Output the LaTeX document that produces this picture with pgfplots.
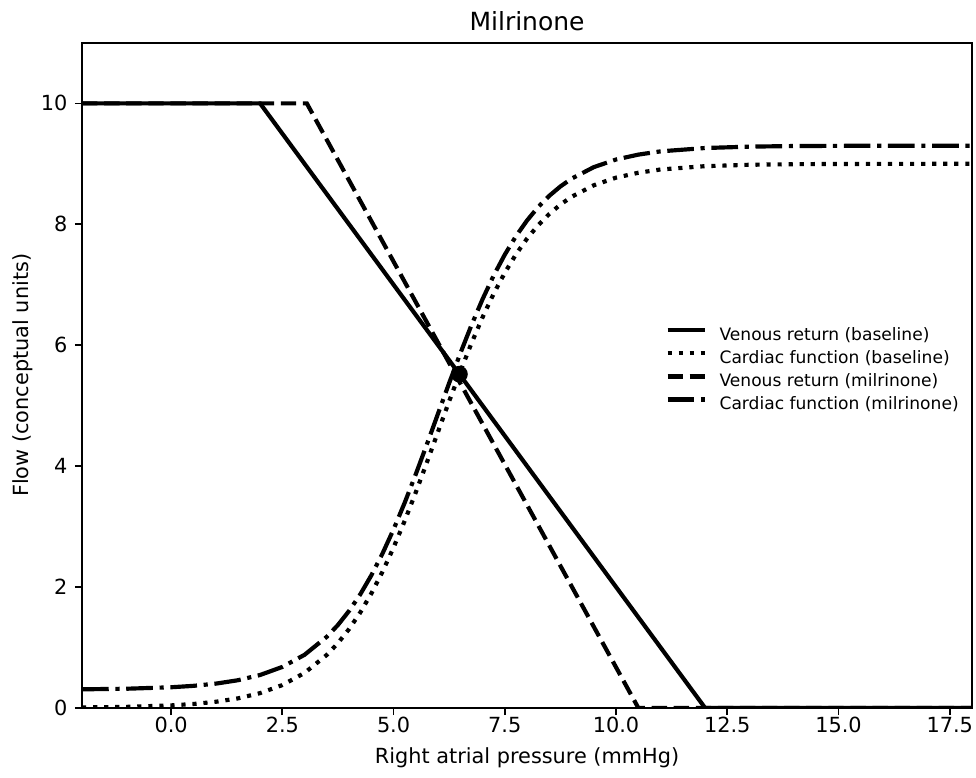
\documentclass[border=0pt]{standalone}
\usepackage{fontspec}
\setmainfont{DejaVu Sans}
\usepackage{pgfplots}
\pgfplotsset{compat=1.18}
\usepackage{pgfplotstable}

\pgfplotstableread{
x cfb cfm
-2 0.0068 0.3068
-1 0.0167 0.3167
0 0.0410 0.3410
0.5 0.0642 0.3642
1 0.1004 0.4004
1.5 0.1568 0.4568
2 0.2439 0.5439
2.5 0.3771 0.6771
3 0.5784 0.8784
3.5 0.8763 1.1763
3.75 1.0714 1.3714
4 1.304 1.604
4.25 1.576 1.876
4.5 1.892 2.192
4.75 2.251 2.551
5 2.653 2.953
5.25 3.094 3.394
5.5 3.567 3.867
5.75 4.062 4.362
6 4.569 4.869
6.25 5.074 5.374
6.5 5.564 5.864
6.75 6.030 6.330
7 6.461 6.761
7.25 6.852 7.152
7.5 7.198 7.498
7.75 7.502 7.802
8 7.763 8.063
8.25 7.985 8.285
8.5 8.171 8.471
8.75 8.326 8.626
9 8.454 8.754
9.5 8.645 8.945
10 8.771 9.071
10.5 8.852 9.152
11 8.906 9.206
12 8.961 9.261
13 8.984 9.284
14 8.994 9.294
15 8.997 9.297
16 8.999 9.299
18 9.000 9.300
}\cftable

\begin{document}
\begin{tikzpicture}
\useasboundingbox (-39.4pt,-33.6pt) rectangle (429.1pt,339.8pt);
\begin{axis}[
  at={(0,0)}, anchor=south west,
  scale only axis, width=427.2pt, height=319.2pt,
  xmin=-2, xmax=18, ymin=0, ymax=11,
  xtick={0,2.5,5,7.5,10,12.5,15,17.5},
  xticklabels={0.0,2.5,5.0,7.5,10.0,12.5,15.0,17.5},
  ytick={0,2,4,6,8,10},
  tick align=outside, tick pos=left,
  major tick length=3.5pt,
  every tick/.style={black, line width=0.8pt},
  axis line style={line width=0.8pt},
  /pgf/number format/assume math mode=true,
  ticklabel style={font=\fontsize{10}{12}\selectfont},
  xticklabel shift=-2.5pt,
  xlabel={Right atrial pressure (mmHg)},
  ylabel={Flow (conceptual units)},
  xlabel shift=0pt,
  ylabel shift=-3pt,
  label style={font=\fontsize{10}{12}\selectfont},
  title={Milrinone},
  title style={font=\fontsize{12}{14}\selectfont, at={(0.5,1)}, anchor=base, yshift=0pt},
  legend style={draw=none, fill=none, at={(0.655,0.507)}, anchor=west,
    font=\fontsize{8.2}{10}\selectfont, row sep=3.4pt, inner sep=0pt,
    column sep=6pt,
    nodes={inner sep=0pt, text height=6pt, text depth=1.7pt}},
  legend cell align=left,
  legend image code/.code={\draw[#1] (0pt,2.8pt) -- (18pt,2.8pt);},
  every axis plot/.append style={line width=2pt, line cap=butt, black},
]
\addplot[solid] coordinates {(-2,10) (2,10) (12,0) (18,0)};
\addlegendentry{Venous return (baseline)}
\addplot[dash pattern=on 2pt off 3.3pt] table[x=x,y=cfb] {\cftable};
\addlegendentry{Cardiac function (baseline)}
\addplot[dash pattern=on 7.4pt off 3.2pt] coordinates {(-2,10) (3.05,10) (10.5,0) (18,0)};
\addlegendentry{Venous return (milrinone)}
\addplot[dash pattern=on 12.8pt off 3.2pt on 2pt off 3.2pt] table[x=x,y=cfm] {\cftable};
\addlegendentry{Cardiac function (milrinone)}
\addplot[only marks, mark=*, mark size=3pt, forget plot] coordinates {(6.48,5.52)};
\end{axis}
\end{tikzpicture}
\end{document}
